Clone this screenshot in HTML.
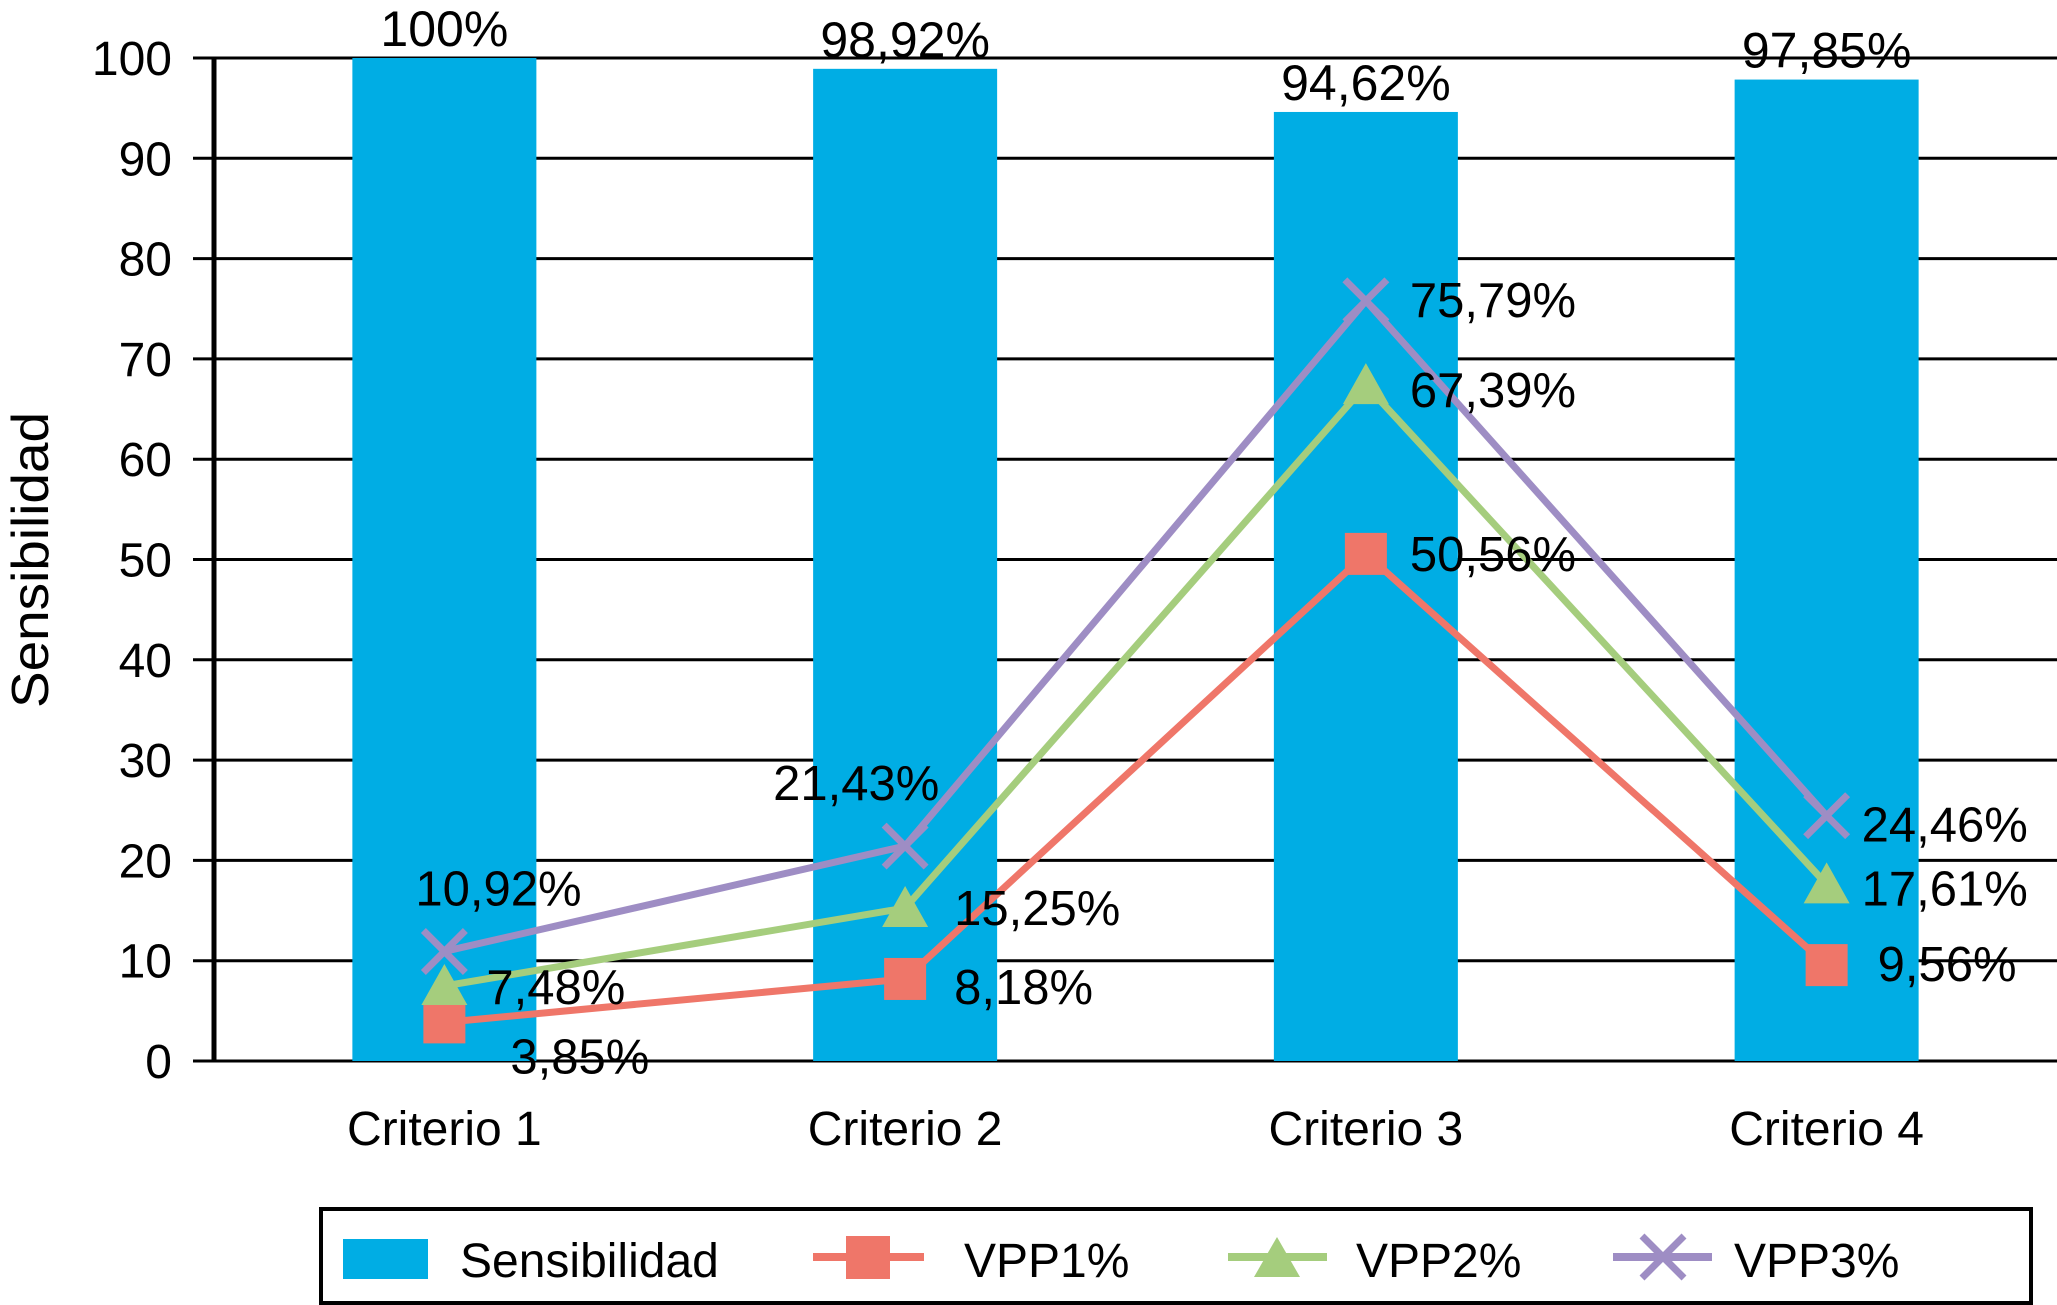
<!DOCTYPE html>
<html><head><meta charset="utf-8"><style>
html,body{margin:0;padding:0;background:#fff}
svg{display:block;font-family:"Liberation Sans",Arial,sans-serif}
</style></head><body>
<svg width="2057" height="1305" viewBox="0 0 2057 1305">
<g id="grid"></g>
<g id="bars"></g>
<g id="lines"></g>
<g id="labels"></g>
<g id="axes"></g>
<text transform="translate(48,560) rotate(-90)" text-anchor="middle" font-size="52" textLength="296" lengthAdjust="spacingAndGlyphs">Sensibilidad</text>
<g>
<rect x="321" y="1209" width="1710" height="94" fill="#fff" stroke="#000" stroke-width="4"/>
<g>
<rect x="343" y="1239" width="85" height="40" fill="#00ADE4"/>
<text x="460" y="1277" font-size="48">Sensibilidad</text></g>
<g>
<line x1="813" y1="1257" x2="924" y2="1257" stroke="#EF7669" stroke-width="8"/>
<rect x="846" y="1236" width="44" height="43" fill="#EF7669"/>
<text x="964" y="1277" font-size="48">VPP1%</text></g>
<g>
<line x1="1228" y1="1257" x2="1327" y2="1257" stroke="#A5CD7D" stroke-width="8"/>
<polygon points="1277,1237 1300,1277 1254,1277" fill="#A5CD7D"/>
<text x="1356" y="1277" font-size="48">VPP2%</text></g>
<g>
<line x1="1613" y1="1257" x2="1712" y2="1257" stroke="#9E8DC4" stroke-width="8"/>
<path d="M1642,1236 L1684,1278 M1684,1236 L1642,1278" stroke="#9E8DC4" stroke-width="7"/>
<text x="1734" y="1277" font-size="48">VPP3%</text></g>
</g>
</svg>
<script>
const categories = ["Criterio 1","Criterio 2","Criterio 3","Criterio 4"];
const sensibilidad = [100, 98.92, 94.62, 97.85];
const sensLabels = ["100%","98,92%","94,62%","97,85%"];
const vpp1 = [3.85, 8.18, 50.56, 9.56];
const vpp1Labels = ["3,85%","8,18%","50,56%","9,56%"];
const vpp2 = [7.48, 15.25, 67.39, 17.61];
const vpp2Labels = ["7,48%","15,25%","67,39%","17,61%"];
const vpp3 = [10.92, 21.43, 75.79, 24.46];
const vpp3Labels = ["10,92%","21,43%","75,79%","24,46%"];
const yTicks = [0,10,20,30,40,50,60,70,80,90,100];

const NS="http://www.w3.org/2000/svg";
const X0=214, X1=2057, Y0=1061, Y1=58;
const band=(X1-X0)/categories.length;
const xs=i=>X0+band*(i+0.5);
const ys=v=>Y0-(v/100)*(Y0-Y1);
function mk(tag,attrs,parent){const e=document.createElementNS(NS,tag);for(const k in attrs)e.setAttribute(k,attrs[k]);parent.appendChild(e);return e;}
const grid=document.getElementById('grid'),bars=document.getElementById('bars'),lines=document.getElementById('lines'),labels=document.getElementById('labels'),axes=document.getElementById('axes');

yTicks.forEach(t=>{
  const l=mk('line',{x1:193,x2:X1,y1:ys(t),y2:ys(t),stroke:'#000','stroke-width':3},grid);
  
  
  const tx=mk('text',{x:172,y:ys(t)+17,'text-anchor':'end','font-size':48},axes);
  tx.textContent=t;
  
  
});
const ax=mk('line',{x1:214,x2:214,y1:Y1,y2:Y0+1,stroke:'#000','stroke-width':5},axes);



const bw=184;
categories.forEach((c,i)=>{
  const r=mk('rect',{x:xs(i)-bw/2,y:ys(sensibilidad[i]),width:bw,height:Y0-ys(sensibilidad[i]),fill:'#00ADE4'},bars);
  
  
  const t=mk('text',{x:xs(i),y:ys(sensibilidad[i])-12,'text-anchor':'middle','font-size':50},labels);
  t.textContent=sensLabels[i];
  
  
  const cl=mk('text',{x:xs(i),y:1145,'text-anchor':'middle','font-size':48},axes);
  cl.textContent=c;
  
  
});

const series=[
 {name:'vpp1',vals:vpp1,labs:vpp1Labels,color:'#EF7669',marker:'square',off:[[66,51],[49,25],[44,17],[51,16]]},
 {name:'vpp2',vals:vpp2,labs:vpp2Labels,color:'#A5CD7D',marker:'triangle',off:[[42,18],[49,17],[44,22],[35,21]]},
 {name:'vpp3',vals:vpp3,labs:vpp3Labels,color:'#9E8DC4',marker:'x',off:[[-29,-46],[-132,-46],[44,16],[35,26]]}
];
series.forEach(s=>{
  const pts=s.vals.map((v,i)=>xs(i)+','+ys(v)).join(' ');
  const pl=mk('polyline',{points:pts,fill:'none',stroke:s.color,'stroke-width':7,'stroke-linejoin':'round'},lines);
  
  
  s.vals.forEach((v,i)=>{
    const x=xs(i),y=ys(v);let m;
    if(s.marker==='square') m=mk('rect',{x:x-21,y:y-21,width:42,height:42,fill:s.color},lines);
    else if(s.marker==='triangle') m=mk('polygon',{points:`${x},${y-22} ${x+23},${y+19} ${x-23},${y+19}`,fill:s.color},lines);
    else m=mk('path',{d:`M${x-21},${y-21}L${x+21},${y+21}M${x+21},${y-21}L${x-21},${y+21}`,stroke:s.color,'stroke-width':7},lines);
    
    
    const t=mk('text',{x:x+s.off[i][0],y:y+s.off[i][1],'font-size':49},labels);
    t.textContent=s.labs[i];
    
    
  });
});
</script>
</body></html>
